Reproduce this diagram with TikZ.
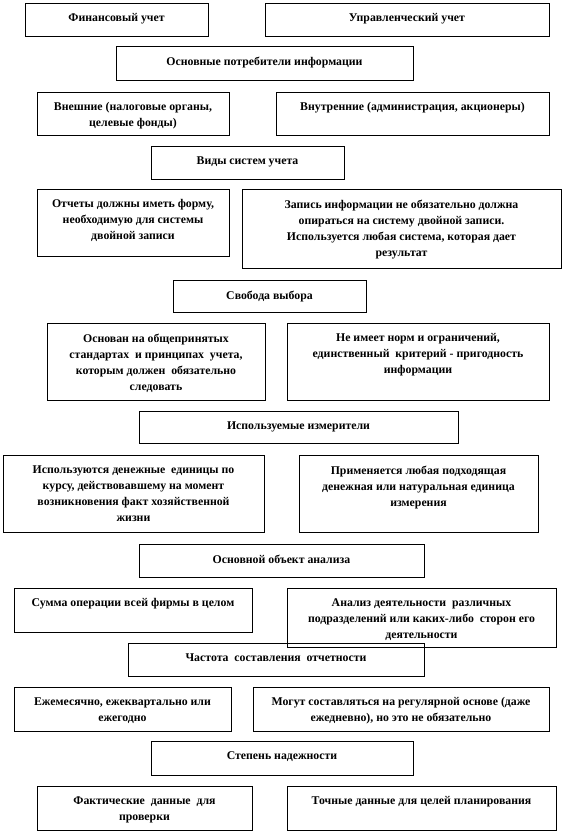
\documentclass[tikz,border=0pt]{standalone}
\usepackage{fontspec}
\setmainfont{Liberation Serif}
\usetikzlibrary{fit}

\begin{document}
\begin{tikzpicture}[x=1pt,y=-1pt,
  box/.style={draw,line width=.8pt,inner sep=0pt},
  txt/.style={anchor=north,align=center,inner sep=0pt,yshift=-11pt,
    font=\fontsize{11.8}{16}\selectfont\bfseries}]
\useasboundingbox (0,0) rectangle (564,834);
% boxes, row by row
\node[box,fit={(25,3) (208,36)}] (fin) {};
\node[box,fit={(265,3) (549,36)}] (upr) {};
\node[box,fit={(116,46) (413,80)}] (potr) {};
\node[box,fit={(37,92) (229,135)}] (vnesh) {};
\node[box,fit={(276,92) (549,135)}] (vnutr) {};
\node[box,fit={(151,146) (344,179)}] (vidy) {};
\node[box,fit={(37,189) (229,256)}] (otch) {};
\node[box,fit={(242,189) (561,268)}] (zap) {};
\node[box,fit={(173,280) (366,312)}] (svob) {};
\node[box,fit={(47,323) (265,400)}] (osn) {};
\node[box,fit={(287,323) (549,400)}] (norm) {};
\node[box,fit={(139,411) (458,443)}] (izm) {};
\node[box,fit={(3,455) (264,532)}] (den) {};
\node[box,fit={(299,455) (538,532)}] (prim) {};
\node[box,fit={(139,544) (424,577)}] (obj) {};
\node[box,fit={(14,588) (252,632)}] (summ) {};
\node[box,fit={(287,588) (556,647)}] (anal) {};
\node[box,fit={(128,643) (424,676)}] (chast) {};
\node[box,fit={(14,687) (231,731)}] (ezhe) {};
\node[box,fit={(253,687) (549,731)}] (mogut) {};
\node[box,fit={(151,741) (413,775)}] (stepen) {};
\node[box,fit={(37,786) (252,830)}] (fakt) {};
\node[box,fit={(287,786) (556,830)}] (toch) {};
% texts
\node[txt] (fin-t) at (fin.north) {Финансовый учет};
\node[txt] (upr-t) at (upr.north) {Управленческий учет};
\node[txt] (potr-t) at (potr.north) {Основные потребители информации};
\node[txt] (vnesh-t) at (vnesh.north) {Внешние (налоговые органы,\\ целевые фонды)};
\node[txt] (vnutr-t) at (vnutr.north) {Внутренние (администрация, акционеры)};
\node[txt] (vidy-t) at (vidy.north) {Виды систем учета};
\node[txt] (otch-t) at (otch.north) {Отчеты должны иметь форму,\\ необходимую для системы\\ двойной записи};
\node[txt] (zap-t) at (zap.north) {Запись информации не обязательно должна\\ опираться на систему двойной записи.\\ Используется любая система, которая дает\\ результат};
\node[txt] (svob-t) at (svob.north) {Свобода выбора};
\node[txt] (osn-t) at (osn.north) {Основан на общепринятых\\ стандартах~ и принципах~ учета,\\ которым должен~ обязательно\\ следовать};
\node[txt] (norm-t) at (norm.north) {Не имеет норм и ограничений,\\ единственный~ критерий - пригодность\\ информации};
\node[txt] (izm-t) at (izm.north) {Используемые измерители};
\node[txt] (den-t) at (den.north) {Используются денежные~ единицы по\\ курсу, действовавшему на момент\\ возникновения факт хозяйственной\\ жизни};
\node[txt] (prim-t) at (prim.north) {Применяется любая подходящая\\ денежная или натуральная единица\\ измерения};
\node[txt] (obj-t) at (obj.north) {Основной объект анализа};
\node[txt] (summ-t) at (summ.north) {Сумма операции всей фирмы в целом};
\node[txt] (anal-t) at (anal.north) {Анализ деятельности~ различных\\ подразделений или каких-либо~ сторон его\\ деятельности};
\node[txt] (chast-t) at (chast.north) {Частота~ составления~ отчетности};
\node[txt] (ezhe-t) at (ezhe.north) {Ежемесячно, ежеквартально или\\ ежегодно};
\node[txt] (mogut-t) at (mogut.north) {Могут составляться на регулярной основе (даже\\ ежедневно), но это не обязательно};
\node[txt] (stepen-t) at (stepen.north) {Степень надежности};
\node[txt] (fakt-t) at (fakt.north) {Фактические~ данные~ для\\ проверки};
\node[txt] (toch-t) at (toch.north) {Точные данные для целей планирования};
\end{tikzpicture}
\end{document}
